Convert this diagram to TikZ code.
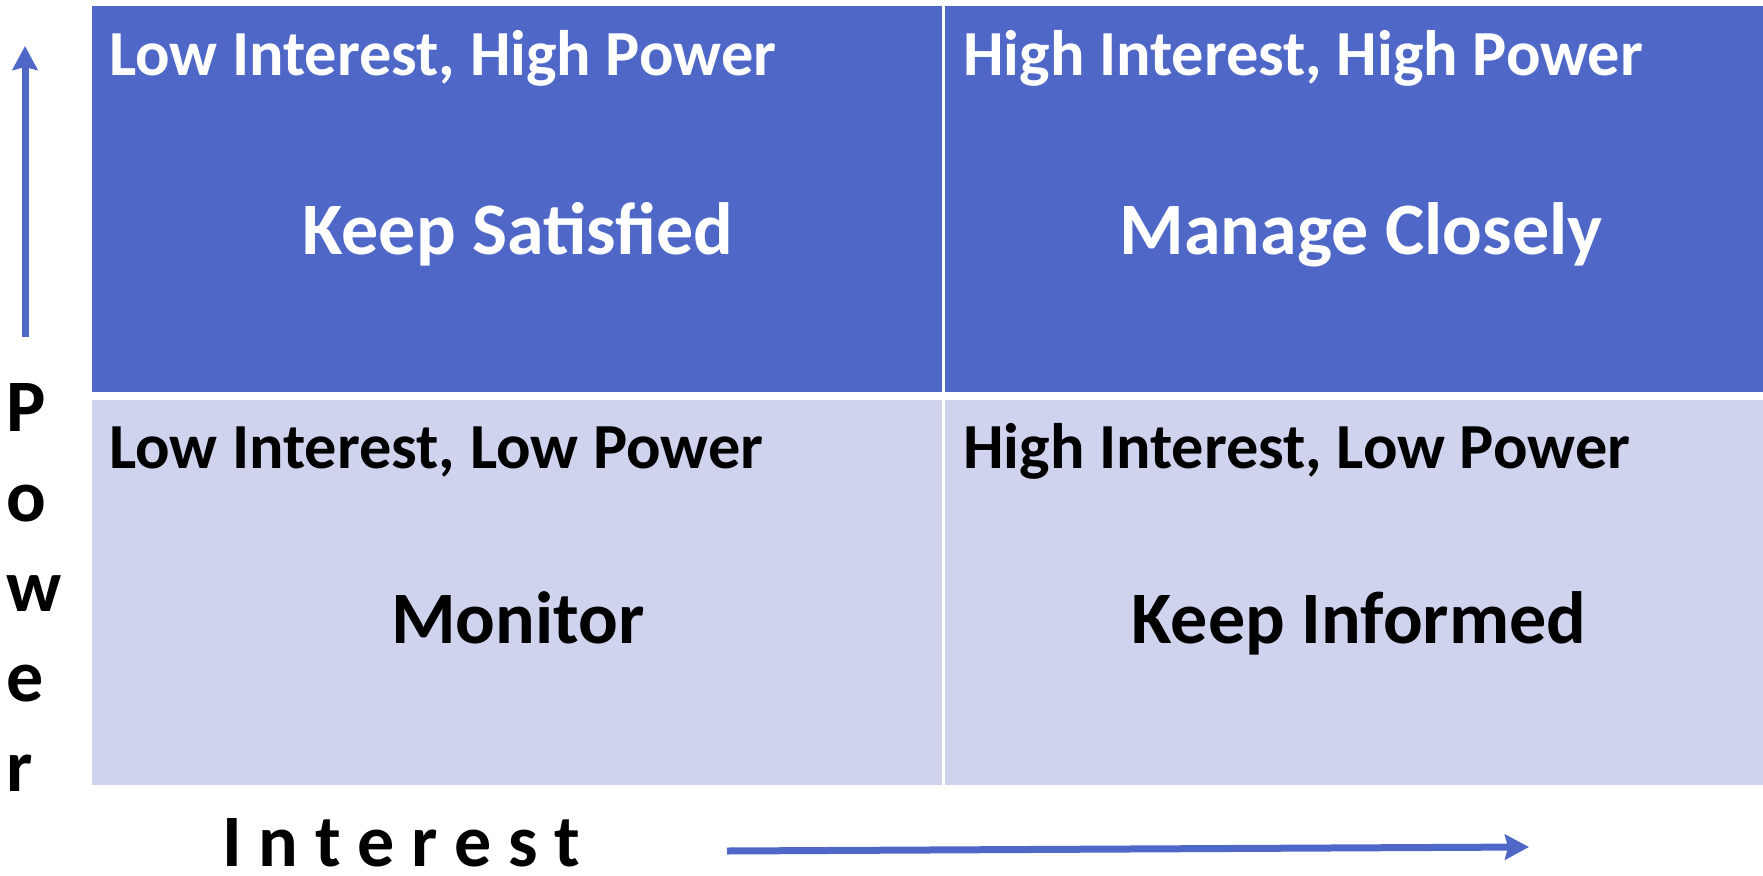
\documentclass[tikz,border=0pt]{standalone}
\usepackage{fontspec}
\setmainfont{Carlito}
\usetikzlibrary{arrows.meta}

\definecolor{hiblue}{RGB}{79,104,200}
\definecolor{loblue}{RGB}{208,211,237}

\begin{document}
\begin{tikzpicture}[x=1pt, y=-1pt,
  cornerlbl/.style={anchor=base west, inner sep=0pt, font=\bfseries\fontsize{64.3}{77}\selectfont},
  actionlbl/.style={anchor=base, inner sep=0pt, font=\bfseries\fontsize{74}{89}\selectfont},
  axislbl/.style={anchor=base west, inner sep=0pt, font=\bfseries\fontsize{74}{89}\selectfont},
  axisarrow/.style={draw=hiblue, line width=7pt, -{Stealth[length=24pt, width=25pt, inset=3pt]}}]
  \useasboundingbox (0,0) rectangle (1763,875);
  % quadrants
  \fill[hiblue] (92,6) rectangle (942,392);
  \fill[hiblue] (945,6) rectangle (1763,392);
  \fill[loblue] (92,400) rectangle (942,785);
  \fill[loblue] (945,400) rectangle (1763,785);
  % corner labels
  \node[cornerlbl, text=white] (lihp) at (109,75) {Low Interest, High Power};
  \node[cornerlbl, text=white] (hihp) at (963,75) {High Interest, High Power};
  \node[cornerlbl] (lilp) at (109,468) {Low Interest, Low Power};
  \node[cornerlbl] (hilp) at (963,468) {High Interest, Low Power};
  % actions
  \node[actionlbl, text=white] (keepsat) at (518,254) {Keep Satisfied};
  \node[actionlbl, text=white] (manage) at (1361,254) {Manage Closely};
  \node[actionlbl] (monitor) at (518,643) {Monitor};
  \node[actionlbl] (keepinf) at (1359,643) {Keep Informed};
  % power axis
  \coordinate (powbot) at (25,337);
  \coordinate (powtop) at (25,46);
  \draw[axisarrow] (powbot) -- (powtop);
  \node[axislbl] (powp) at (6,431) {P};
  \node[axislbl] (powo) at (6,521) {o};
  \node[axislbl] (poww) at (6,611) {w};
  \node[axislbl] (powe) at (6,701) {e};
  \node[axislbl] (powr) at (6,791) {r};
  % interest axis
  \node[axislbl] (intlbl) at (222,866) {I n t e r e s t};
  \coordinate (intleft) at (727,851);
  \coordinate (intright) at (1529,847);
  \draw[axisarrow] (intleft) -- (intright);
\end{tikzpicture}
\end{document}
